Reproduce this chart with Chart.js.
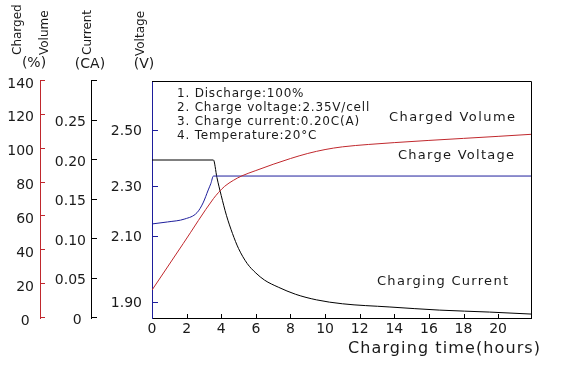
<!DOCTYPE html>
<html>
<head>
<meta charset="utf-8">
<script src="https://cdn.jsdelivr.net/npm/chart.js@4.4.0/dist/chart.umd.min.js"></script>
<style>
  html, body { margin: 0; padding: 0; background: #fff; }
  #chart { display: block; }
</style>
</head>
<body>
<canvas id="chart" width="567" height="368"></canvas>
<script>
// tick labels
const hourTicks = [0, 2, 4, 6, 8, 10, 12, 14, 16, 18, 20];
const volumeTicks = [0, 20, 40, 60, 80, 100, 120, 140];
const currentTicks = [0, 0.05, 0.10, 0.15, 0.20, 0.25, 0.30];
const voltageTicks = [1.90, 2.10, 2.30, 2.50];

// charged volume (%)
const volumeHours = [0, 1.8, 3.55, 3.85, 4.2, 4.7, 5.2, 6.0, 7.0, 8.0, 9.0, 10.0, 11.0, 12.5, 14.0, 16.0, 18.0, 20.0, 21.9];
const volumeValues = [16.5, 43.9, 70.5, 74.2, 77.8, 81.3, 84.0, 87.1, 90.8, 94.2, 97.2, 99.5, 101.1, 102.5, 103.6, 104.9, 106.1, 107.3, 108.5];

// charge voltage (V)
const voltageHours = [0, 0.9, 1.9, 2.6, 2.95, 3.25, 3.4, 3.55, 21.9];
const voltageValues = [2.152, 2.16, 2.172, 2.197, 2.236, 2.288, 2.312, 2.339, 2.339];

// charging current (CA)
const currentHours = [0, 3.55, 3.75, 4.0, 4.3, 4.65, 5.0, 5.5, 6.0, 6.5, 7.3, 8.3, 9.5, 11.0, 13.7, 16.6, 19.5, 21.9];
const currentValues = [0.200, 0.200, 0.178, 0.155, 0.130, 0.107, 0.088, 0.069, 0.057, 0.048, 0.039, 0.030, 0.023, 0.018, 0.014, 0.010, 0.0075, 0.0050];

const notes = ['1. Discharge:100%', '2. Charge voltage:2.35V/cell', '3. Charge current:0.20C(A)', '4. Temperature:20°C'];

const RED = '#c0282d';
const BLUE = '#1e1e9c';
const INK = '#1a1a1a';
const FONT = '"DejaVu Sans", Verdana, sans-serif';

// the voltage axis of the original is not evenly spaced, so map it in pieces
const voltageStops = [[1.85, 0], [1.90, 0.063], [2.10, 0.342], [2.30, 0.553], [2.50, 0.789], [2.68, 1]];

class SteppedScale extends Chart.LinearScale {
  toDecimal(v) {
    const s = voltageStops;
    let i = 1;
    while (i < s.length - 1 && v > s[i][0]) i++;
    const [v0, f0] = s[i - 1], [v1, f1] = s[i];
    return f0 + (v - v0) * (f1 - f0) / (v1 - v0);
  }
  getPixelForValue(v) {
    return v === null ? NaN : this.getPixelForDecimal(this.toDecimal(v));
  }
  getValueForPixel(p) {
    const d = this.getDecimalForPixel(p), s = voltageStops;
    let i = 1;
    while (i < s.length - 1 && d > s[i][1]) i++;
    const [v0, f0] = s[i - 1], [v1, f1] = s[i];
    return v0 + (d - f0) * (v1 - v0) / (f1 - f0);
  }
}
SteppedScale.id = 'stepped';
SteppedScale.defaults = Chart.LinearScale.defaults;
Chart.register(SteppedScale);

const toPoints = (xs, ys) => xs.map((x, i) => ({ x: x, y: ys[i] }));

function spacedText(ctx, text, x, y, size, width) {
  ctx.font = size + 'px ' + FONT;
  ctx.letterSpacing = '0px';
  const natural = ctx.measureText(text).width;
  ctx.letterSpacing = ((width - natural) / (text.length - 1)) + 'px';
  ctx.fillText(text, x, y);
  ctx.letterSpacing = '0px';
}

function rotatedText(ctx, text, x, y, size) {
  ctx.save();
  ctx.translate(x, y);
  ctx.rotate(-Math.PI / 2);
  ctx.font = size + 'px ' + FONT;
  ctx.textAlign = 'left';
  ctx.textBaseline = 'alphabetic';
  ctx.fillText(text, 0, 0);
  ctx.restore();
}

const decorations = {
  id: 'decorations',
  afterDraw(chart) {
    const ctx = chart.ctx;
    const a = chart.chartArea;
    ctx.save();
    ctx.lineWidth = 1;

    // frame top and right
    ctx.strokeStyle = '#000';
    ctx.beginPath();
    ctx.moveTo(a.left, a.top + 0.5);
    ctx.lineTo(a.right + 0.5, a.top + 0.5);
    ctx.lineTo(a.right + 0.5, a.bottom);
    ctx.stroke();

    // short tick marks pointing right of each y axis
    [['volume', 5], ['current', 6], ['voltage', 6]].forEach(([id, len]) => {
      const s = chart.scales[id];
      ctx.strokeStyle = s.options.border.color;
      s.ticks.forEach((t, i) => {
        const y = Math.round(s.getPixelForTick(i)) - 0.5;
        ctx.beginPath();
        ctx.moveTo(s.right, y);
        ctx.lineTo(s.right + len, y);
        ctx.stroke();
      });
    });

    // x ticks pointing up
    const xs = chart.scales.x;
    ctx.strokeStyle = '#000';
    xs.ticks.forEach((t, i) => {
      if (i === 0) return;
      const x = Math.round(xs.getPixelForTick(i)) + 0.5;
      ctx.beginPath();
      ctx.moveTo(x, a.bottom);
      ctx.lineTo(x, a.bottom - 4);
      ctx.stroke();
    });

    ctx.fillStyle = INK;

    // axis titles
    rotatedText(ctx, 'Charged', 21, 55, 12);
    rotatedText(ctx, 'Volume', 48, 55, 12);
    rotatedText(ctx, 'Current', 91, 55, 12);
    rotatedText(ctx, 'Voltage', 144, 56, 12);
    ctx.font = '14px ' + FONT;
    ctx.textAlign = 'center';
    ctx.textBaseline = 'middle';
    ctx.fillText('(%)', 34, 63);
    ctx.fillText('(CA)', 90, 64);
    ctx.fillText('(V)', 144, 64);

    // notes and curve names
    ctx.textAlign = 'left';
    ctx.font = '12px ' + FONT;
    ctx.letterSpacing = '0.8px';
    notes.forEach((n, i) => ctx.fillText(n, 177, 94 + i * 14));
    ctx.letterSpacing = '0px';
    spacedText(ctx, 'Charged Volume', 389, 118, 13, 126);
    spacedText(ctx, 'Charge Voltage', 398, 156, 13, 116);
    spacedText(ctx, 'Charging Current', 377, 282, 13, 131);
    spacedText(ctx, 'Charging time(hours)', 348, 349, 16, 192);

    ctx.restore();
  }
};

const tickFont = { family: FONT, size: 14 };
const fixedTicks = list => scale => { scale.ticks = list.map(v => ({ value: v })); };

new Chart(document.getElementById('chart'), {
  type: 'line',
  data: {
    datasets: [
      {
        label: 'Charged Volume',
        data: toPoints(volumeHours, volumeValues),
        yAxisID: 'volume',
        borderColor: RED
      },
      {
        label: 'Charge Voltage',
        data: toPoints(voltageHours, voltageValues),
        yAxisID: 'voltage',
        borderColor: BLUE
      },
      {
        label: 'Charging Current',
        data: toPoints(currentHours, currentValues),
        yAxisID: 'current',
        borderColor: '#000'
      }
    ]
  },
  options: {
    responsive: false,
    animation: false,
    layout: { padding: { left: 0, top: 81, right: 36, bottom: 0 } },
    plugins: {
      legend: { display: false },
      tooltip: { enabled: false }
    },
    elements: {
      point: { radius: 0 },
      line: { borderWidth: 1, fill: false, cubicInterpolationMode: 'monotone' }
    },
    scales: {
      x: {
        type: 'linear',
        min: 0,
        max: 21.9,
        afterBuildTicks: fixedTicks(hourTicks),
        afterFit: s => { s.height = 50; },
        grid: { drawOnChartArea: false, drawTicks: false },
        border: { color: '#000', width: 1 },
        ticks: { autoSkip: false, maxRotation: 0, padding: 3, color: INK, font: tickFont }
      },
      volume: {
        type: 'linear',
        position: 'left',
        weight: 2,
        min: 0,
        max: 140,
        afterBuildTicks: fixedTicks(volumeTicks),
        afterFit: s => { s.width = 40; },
        grid: { drawOnChartArea: false, drawTicks: false },
        border: { color: RED, width: 1 },
        ticks: {
          autoSkip: false, padding: 6, labelOffset: 3, color: INK, font: tickFont,
          callback: v => v === 0 ? '0 ' : String(v)
        }
      },
      current: {
        type: 'linear',
        position: 'left',
        weight: 1,
        min: 0,
        max: 0.30,
        afterBuildTicks: fixedTicks(currentTicks),
        afterFit: s => { s.width = 51; },
        grid: { drawOnChartArea: false, drawTicks: false },
        border: { color: '#000', width: 1 },
        ticks: {
          autoSkip: false, padding: 5, labelOffset: 2, color: INK, font: tickFont,
          callback: (v, i) => i === 0 ? '0 ' : (i === currentTicks.length - 1 ? '' : v.toFixed(2))
        }
      },
      voltage: {
        type: 'stepped',
        position: 'left',
        weight: 0,
        min: 1.85,
        max: 2.68,
        afterBuildTicks: fixedTicks(voltageTicks),
        afterFit: s => { s.width = 61; },
        grid: { drawOnChartArea: false, drawTicks: false },
        border: { color: BLUE, width: 1 },
        ticks: {
          autoSkip: false, padding: 10, color: INK, font: tickFont,
          callback: v => v.toFixed(2)
        }
      }
    }
  },
  plugins: [decorations]
});
</script>
</body>
</html>
